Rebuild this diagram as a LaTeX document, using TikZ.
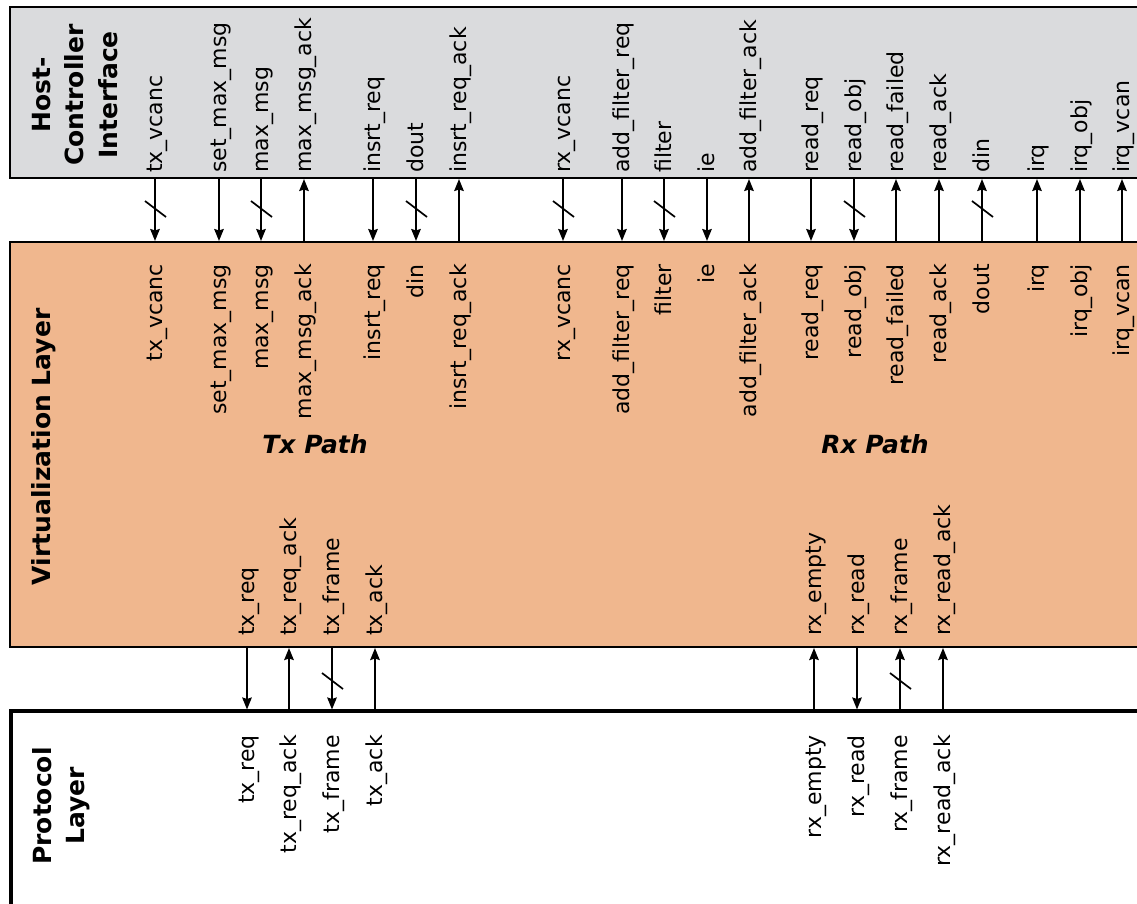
\documentclass[tikz,border=0pt]{standalone}
\usepackage{fontspec}
\setmainfont{DejaVu Sans}
\usetikzlibrary{arrows.meta}
\definecolor{hostgray}{RGB}{218,219,221}
\definecolor{virtorange}{RGB}{240,183,142}
\tikzset{
  sig/.style={line width=2pt, -{Stealth[length=12pt,width=9.5pt,inset=1.5pt]}},
  busmark/.style={line width=1.7pt},
  siglabel/.style={rotate=90, inner sep=0pt, font=\fontsize{22}{26}\selectfont},
  layertitle/.style={rotate=90, align=center, inner sep=0pt, font=\fontsize{25}{33.5}\selectfont\bfseries},
  pathtitle/.style={inner sep=0pt, font=\fontsize{25}{29}\selectfont\bfseries\itshape},
}
\begin{document}
\begin{tikzpicture}[x=1pt,y=-1pt]
\useasboundingbox (0,0) rectangle (1137,903);

% layer frames (they run on past the right edge)
\begin{scope}
  \clip (0,0) rectangle (1137,903);
  \draw[fill=hostgray, line width=2pt] (10,7) rectangle (1160,178);
  \draw[fill=virtorange, line width=2.4pt] (10,242) rectangle (1160,647);
  \draw[line width=3.2pt] (11,920) -- (11,711) -- (1160,711);
\end{scope}

% layer titles
\node[layertitle] (hci) at (75,95) {Host-\\Controller\\Interface};
\node[layertitle] (virt) at (44,447) {Virtualization Layer};
\node[layertitle] (prot) at (61,806) {Protocol\\Layer};
\node[pathtitle] (txpath) at (315,444) {Tx Path};
\node[pathtitle] (rxpath) at (875,444) {Rx Path};

% host <-> virtualization signals: x / host name / virt name / down? / bus?
\foreach \x/\hl/\vl/\d/\s [count=\i] in {
  155/tx\_vcanc/tx\_vcanc/1/1,
  219/set\_max\_msg/set\_max\_msg/1/0,
  261/max\_msg/max\_msg/1/1,
  304/max\_msg\_ack/max\_msg\_ack/0/0,
  373/insrt\_req/insrt\_req/1/0,
  416/dout/din/1/1,
  459/insrt\_req\_ack/insrt\_req\_ack/0/0,
  563/rx\_vcanc/rx\_vcanc/1/1,
  622/add\_filter\_req/add\_filter\_req/1/0,
  664/filter/filter/1/1,
  707/ie/ie/1/0,
  749/add\_filter\_ack/add\_filter\_ack/0/0,
  811/read\_req/read\_req/1/0,
  854/read\_obj/read\_obj/1/1,
  896/read\_failed/read\_failed/0/0,
  939/read\_ack/read\_ack/0/0,
  982/din/dout/0/1,
  1037/irq/irq/0/0,
  1080/irq\_obj/irq\_obj/0/0,
  1122/irq\_vcan/irq\_vcan/0/0}{
  \node[siglabel, anchor=base west] (hl\i) at (\x+7,173) {\hl};
  \node[siglabel, anchor=base east] (vl\i) at (\x+7,264) {\vl};
  \coordinate (ha\i) at (\x,179);
  \coordinate (va\i) at (\x,241);
  \ifnum\d=1
    \draw[sig] (ha\i) -- (va\i);
  \else
    \draw[sig] (va\i) -- (ha\i);
  \fi
  \ifnum\s=1
    \draw[busmark] (\x-10,201) -- (\x+11,217);
  \fi
}

% virtualization <-> protocol signals
\foreach \x/\nm/\d/\s [count=\i] in {
  247/tx\_req/1/0,
  289/tx\_req\_ack/0/0,
  332/tx\_frame/1/1,
  375/tx\_ack/0/0,
  814/rx\_empty/0/0,
  857/rx\_read/1/0,
  900/rx\_frame/0/1,
  943/rx\_read\_ack/0/0}{
  \node[siglabel, anchor=base west] (vb\i) at (\x+7,636) {\nm};
  \node[siglabel, anchor=base east] (pl\i) at (\x+7,735) {\nm};
  \coordinate (vc\i) at (\x,648);
  \coordinate (pc\i) at (\x,709.5);
  \ifnum\d=1
    \draw[sig] (vc\i) -- (pc\i);
  \else
    \draw[sig] (pc\i) -- (vc\i);
  \fi
  \ifnum\s=1
    \draw[busmark] (\x-10,673) -- (\x+11,689);
  \fi
}
\end{tikzpicture}
\end{document}
